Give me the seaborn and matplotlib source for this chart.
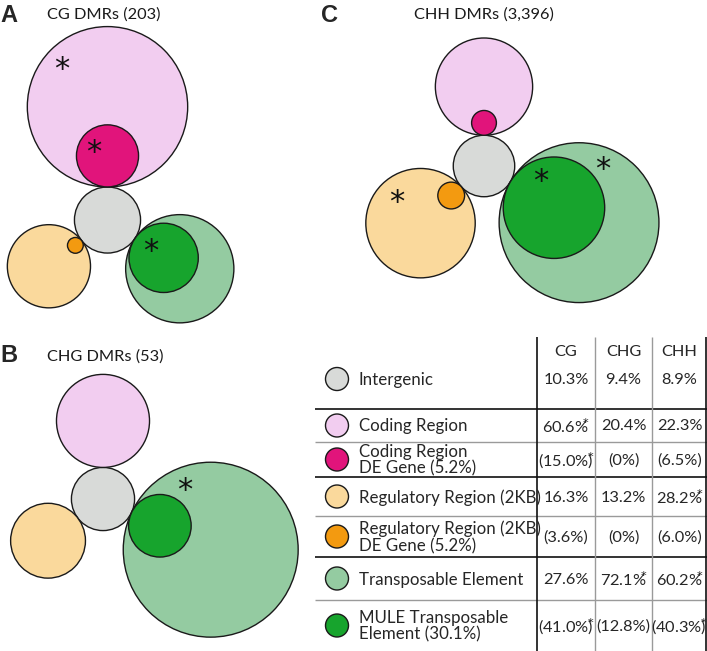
import numpy as np
import matplotlib
matplotlib.use("Agg")
import matplotlib.pyplot as plt
from matplotlib.patches import Circle
import seaborn as sns

# ---- data ----
contexts = ["CG", "CHG", "CHH"]
dmr_counts = ["203", "53", "3,396"]
panel_letters = ["A", "B", "C"]

region_labels = [
    "Intergenic",
    "Coding Region",
    "Coding Region\nDE Gene (5.2%)",
    "Regulatory Region (2KB)",
    "Regulatory Region (2KB)\nDE Gene (5.2%)",
    "Transposable Element",
    "MULE Transposable\nElement (30.1%)",
]

# % of DMRs per region (sub-regions are % of their parent region)
intergenic = [10.3, 9.4, 8.9]
coding = [60.6, 20.4, 22.3]
coding_de = [15.0, 0.0, 6.5]
regulatory = [16.3, 13.2, 28.2]
regulatory_de = [3.6, 0.0, 6.0]
transposable = [27.6, 72.1, 60.2]
mule = [41.0, 12.8, 40.3]

# asterisks (significant enrichment)
sig_intergenic = [False, False, False]
sig_coding = [True, False, False]
sig_coding_de = [True, False, False]
sig_regulatory = [False, False, True]
sig_regulatory_de = [False, False, False]
sig_transposable = [False, True, True]
sig_mule = [True, False, True]

# ---- styling / layout ----
colors = sns.color_palette(["#d8dad8", "#f2cdf0", "#e1147b", "#fad99c",
                            "#f39a10", "#94cba1", "#17a42d"])
edge = "#1a1a1a"
px_per_sqrt = 10.3                      # circle radius = k * sqrt(percent)
panel_anchor = [(107.5, 220), (103, 499), (484, 166)]   # intergenic centres
reg_angle = [141.7, 142.8, 138.0]       # direction of regulatory circle (deg, y down)
te_angle = [34.0, 25.2, 30.8]           # direction of TE circle
title_pos = [(104, 15), (105, 357), (484, 15)]
letter_pos = [(0, 15), (0, 356), (321, 15)]
# star offsets as fraction of the circle radius
star_offset = {
    (0, "coding"): (-0.57, -0.55), (0, "coding_de"): (-0.45, -0.34),
    (0, "mule"): (-0.38, -0.38), (1, "transposable"): (-0.30, -0.75),
    (2, "regulatory"): (-0.44, -0.51), (2, "transposable"): (0.30, -0.75),
    (2, "mule"): (-0.27, -0.65),
}

sns.set_theme(style="white")
plt.rcParams["font.family"] = ["Lato", "DejaVu Sans"]
plt.rcParams["mathtext.fontset"] = "dejavusans"

fig = plt.figure(figsize=(7.07, 6.51), dpi=100)
ax = fig.add_axes([0, 0, 1, 1])
ax.set_xlim(0, 707)
ax.set_ylim(651, 0)
ax.axis("off")


def circle(x, y, r, c):
    ax.add_patch(Circle((x, y), r, facecolor=c, edgecolor=edge, lw=1.0))


def star(x, y, size=22):
    # baseline placed so the glyph centre sits on (x, y)
    ax.text(x, y + 0.50 * size * 100 / 72, "*", fontsize=size, ha="center",
            va="baseline", color="#111111", family="DejaVu Sans")


for i in range(3):
    cx, cy = panel_anchor[i]
    r_int = px_per_sqrt * np.sqrt(intergenic[i])
    circle(cx, cy, r_int, colors[0])
    groups = [
        ("coding", coding, sig_coding, "coding_de", coding_de, sig_coding_de, -90.0, 1),
        ("regulatory", regulatory, sig_regulatory, "regulatory_de", regulatory_de,
         sig_regulatory_de, reg_angle[i], 3),
        ("transposable", transposable, sig_transposable, "mule", mule, sig_mule,
         te_angle[i], 5),
    ]
    for name, vals, sig, sub_name, sub_vals, sub_sig, ang, ci in groups:
        u = np.array([np.cos(np.radians(ang)), np.sin(np.radians(ang))])
        r = px_per_sqrt * np.sqrt(vals[i])
        tp = np.array([cx, cy]) + r_int * u         # tangent point
        pc = tp + r * u
        circle(pc[0], pc[1], r, colors[ci])
        if sig[i]:
            ox, oy = star_offset[(i, name)]
            star(pc[0] + ox * r, pc[1] + oy * r)
        if sub_vals[i] > 0:
            rs = r * np.sqrt(sub_vals[i] / 100)
            sc = tp + rs * u
            circle(sc[0], sc[1], rs, colors[ci + 1])
            if sub_sig[i]:
                ox, oy = star_offset[(i, sub_name)]
                star(sc[0] + ox * rs, sc[1] + oy * rs)
    tx, ty = title_pos[i]
    ax.text(tx, ty, f"{contexts[i]} DMRs ({dmr_counts[i]})", fontsize=11.8,
            ha="center", va="center", color="#1a1a1a")
    lx, ly = letter_pos[i]
    ax.text(lx, ly, panel_letters[i], fontsize=17, fontweight="bold",
            family="Liberation Sans", ha="left", va="center")

# ---- table ----
col_edges = [537, 595, 652, 707]
table_left, table_top = 315, 337
header_y = 352
row_edges = [409, 442, 477, 516, 557, 600, 651]
row_centers = [379] + [(a + b) / 2 for a, b in zip(row_edges[:-1], row_edges[1:])]
rows = [intergenic, coding, coding_de, regulatory, regulatory_de, transposable, mule]
rows_sig = [sig_intergenic, sig_coding, sig_coding_de, sig_regulatory,
            sig_regulatory_de, sig_transposable, sig_mule]
is_sub = [False, False, True, False, True, False, True]

for j, y in enumerate(row_edges[:-1]):
    ax.plot([table_left, 707], [y, y], color="#111111" if j % 2 == 0 else "#9a9a9a",
            lw=1.2 if j % 2 == 0 else 1.0, solid_capstyle="butt")
for j, x in enumerate(col_edges):
    xx = min(x, 706.4)
    dark = j in (0, 3)
    ax.plot([xx, xx], [table_top, 651], color="#111111" if dark else "#9a9a9a",
            lw=1.2 if dark else 1.0, solid_capstyle="butt")

col_centers = [(a + b) / 2 for a, b in zip(col_edges[:-1], col_edges[1:])]
for k, name in enumerate(contexts):
    ax.text(col_centers[k], header_y, name, fontsize=11.8, ha="center", va="center")

for j in range(len(rows)):
    y = row_centers[j]
    circle(337, y, 11.5, colors[j])
    ax.text(359, y + 1, region_labels[j], fontsize=12.2, ha="left", va="center",
            linespacing=1.05)
    for k in range(3):
        v = rows[j][k]
        s = "0%" if v == 0 else f"{v:.1f}%"
        if is_sub[j]:
            s = f"({s})"
        if rows_sig[j][k]:
            # asterisk tucked against the value, like a superscript mark
            ax.text(col_centers[k], y + 1, s + r"$\!\!^{*}$", fontsize=11.8,
                    ha="center", va="center")
        else:
            ax.text(col_centers[k], y + 1, s, fontsize=11.8, ha="center", va="center")

fig.savefig("out.png", dpi=100)
